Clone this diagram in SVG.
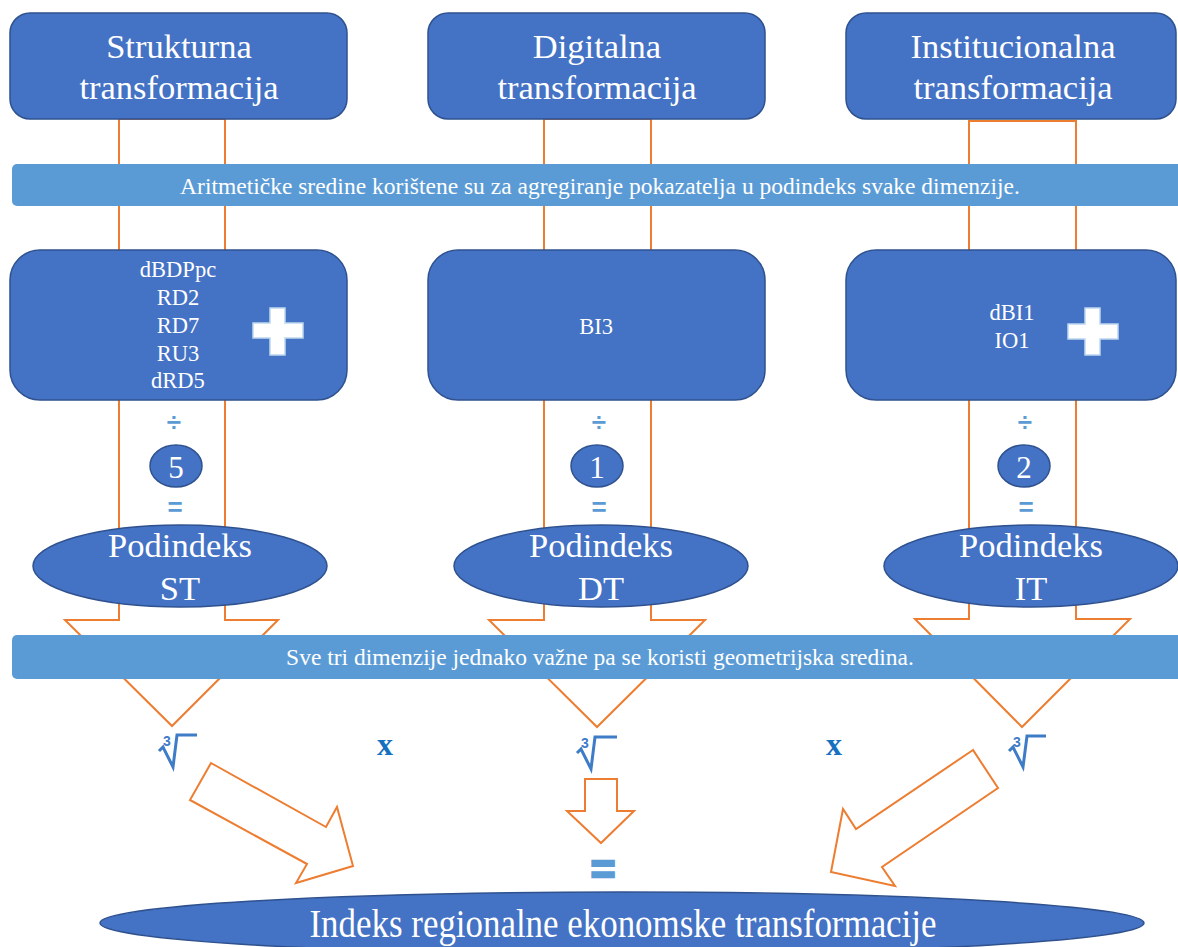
<svg xmlns="http://www.w3.org/2000/svg" width="1178" height="947" viewBox="0 0 1178 947">
<defs>
<style>
.box{fill:#4472C4;stroke:#2F528F;stroke-width:1.5}
.band{fill:#5B9BD5}
.arr{fill:none;stroke:#ED7D31;stroke-width:2;stroke-linejoin:miter}
.arrw{fill:#FFFFFF;stroke:#ED7D31;stroke-width:2}
.t{font-family:"Liberation Serif","Times New Roman",serif;fill:#FFFFFF;text-anchor:middle}
.big{font-size:34.5px}
.bt{font-size:23.5px}
.mt{font-size:22.5px}
.op{font-family:"Liberation Sans",Arial,sans-serif;font-weight:bold;fill:#5B9BD5;text-anchor:middle;font-size:26px}
.x{font-family:"Liberation Serif","Times New Roman",serif;font-weight:bold;fill:#1570C0;text-anchor:middle;font-size:32px}
.plus{fill:#FFFFFF;stroke:#BDD7EE;stroke-width:1.5}
.rad{fill:none;stroke:#3E7CC7;stroke-width:3;stroke-linejoin:miter}
.r3{font-family:"Liberation Sans",Arial,sans-serif;font-weight:bold;fill:#3E7CC7;font-size:14px}
</style>
</defs>

<g id="connectors">
<polygon class="arr" points="119,119 225,119 225,620 278,620 172,726 65,620 119,620"/>
<polygon class="arr" points="544,119 651,119 651,620 705,620 597,727 489,620 544,620"/>
<polygon class="arr" points="969,121 1076,121 1076,619 1130,619 1022,727 915,619 969,619"/>
<polygon class="arrw" points="211,763 326,827 337,807 353,866 296,883 307,864 190,800"/>
<polygon class="arrw" points="585,779 617,779 617,811 634,811 601,843 567,811 585,811"/>
<polygon class="arrw" points="973,750 856,829 843,809 831,872 895,886 882,867 998,788"/>
</g>

<g id="top-structural">
<rect class="box" x="10" y="13" width="337" height="106" rx="20"/>
<text class="t big" x="179" y="58">Strukturna</text>
<text class="t big" x="179" y="99">transformacija</text>
</g>
<g id="top-digital">
<rect class="box" x="428" y="13" width="337" height="106" rx="20"/>
<text class="t big" x="597" y="58">Digitalna</text>
<text class="t big" x="597" y="99">transformacija</text>
</g>
<g id="top-institutional">
<rect class="box" x="846" y="13" width="330" height="106" rx="20"/>
<text class="t big" x="1013" y="58">Institucionalna</text>
<text class="t big" x="1013" y="99">transformacija</text>
</g>

<g id="band-arithmetic">
<rect class="band" x="12" y="164" width="1180" height="42" rx="5"/>
<text class="t bt" x="600" y="194">Aritmetičke sredine korištene su za agregiranje pokazatelja u podindeks svake dimenzije.</text>
</g>

<g id="mid-structural">
<rect class="box" x="10" y="250" width="337" height="150" rx="30"/>
<text class="t mt" x="178" y="277">dBDPpc</text>
<text class="t mt" x="178" y="305">RD2</text>
<text class="t mt" x="178" y="333">RD7</text>
<text class="t mt" x="178" y="361">RU3</text>
<text class="t mt" x="178" y="388">dRD5</text>
<path class="plus" d="M270,308 H285 V323 H303 V338 H285 V355 H270 V338 H253 V323 H270 Z"/>
</g>
<g id="mid-digital">
<rect class="box" x="428" y="250" width="337" height="150" rx="30"/>
<text class="t mt" x="596" y="334">BI3</text>
</g>
<g id="mid-institutional">
<rect class="box" x="846" y="250" width="330" height="150" rx="30"/>
<text class="t mt" x="1012" y="320">dBI1</text>
<text class="t mt" x="1012" y="348">IO1</text>
<path class="plus" d="M1085,308 H1100 V324 H1118 V339 H1100 V355 H1085 V339 H1068 V324 H1085 Z"/>
</g>

<g id="ops-structural">
<text class="op" x="174" y="431">÷</text>
<ellipse class="box" cx="176" cy="466" rx="26" ry="21"/>
<text class="t" style="font-size:31px" x="176" y="478">5</text>
<text class="op" x="175" y="516">=</text>
</g>
<g id="ops-digital">
<text class="op" x="599" y="431">÷</text>
<ellipse class="box" cx="597" cy="466" rx="26" ry="21"/>
<text class="t" style="font-size:31px" x="597" y="478">1</text>
<text class="op" x="599" y="516">=</text>
</g>
<g id="ops-institutional">
<text class="op" x="1025" y="431">÷</text>
<ellipse class="box" cx="1024" cy="466" rx="26" ry="21"/>
<text class="t" style="font-size:31px" x="1024" y="478">2</text>
<text class="op" x="1026" y="516">=</text>
</g>

<g id="sub-ST">
<ellipse class="box" cx="180" cy="566" rx="147" ry="41"/>
<text class="t big" x="180" y="557">Podindeks</text>
<text class="t big" x="180" y="600">ST</text>
</g>
<g id="sub-DT">
<ellipse class="box" cx="601" cy="566" rx="147" ry="41"/>
<text class="t big" x="601" y="557">Podindeks</text>
<text class="t big" x="601" y="600">DT</text>
</g>
<g id="sub-IT">
<ellipse class="box" cx="1031" cy="566" rx="147" ry="41"/>
<text class="t big" x="1031" y="557">Podindeks</text>
<text class="t big" x="1031" y="600">IT</text>
</g>

<g id="band-geometric">
<rect class="band" x="12" y="635" width="1180" height="44" rx="5"/>
<text class="t bt" x="600" y="665">Sve tri dimenzije jednako važne pa se koristi geometrijska sredina.</text>
</g>

<g id="root-1">
<polyline class="rad" points="159,751 163,747 173,767 177,735 197,735"/>
<text class="r3" x="163" y="746">3</text>
</g>
<g id="root-2">
<polyline class="rad" points="577,753 581,749 591,769 595,737 617,737"/>
<text class="r3" x="581" y="748">3</text>
</g>
<g id="root-3">
<polyline class="rad" points="1009,751 1013,747 1023,767 1027,736 1046,736"/>
<text class="r3" x="1013" y="747">3</text>
</g>
<g id="times-1"><text class="x" x="385" y="755">x</text></g>
<g id="times-2"><text class="x" x="834" y="755">x</text></g>

<g id="equals-final">
<text class="op" style="font-size:42px;stroke:#5B9BD5;stroke-width:2.5" x="603" y="884">=</text>
</g>

<g id="final-index">
<ellipse class="box" cx="622" cy="923" rx="522" ry="31"/>
<text class="t" style="font-size:41px" x="623" y="937" textLength="627" lengthAdjust="spacingAndGlyphs">Indeks regionalne ekonomske transformacije</text>
</g>
</svg>
